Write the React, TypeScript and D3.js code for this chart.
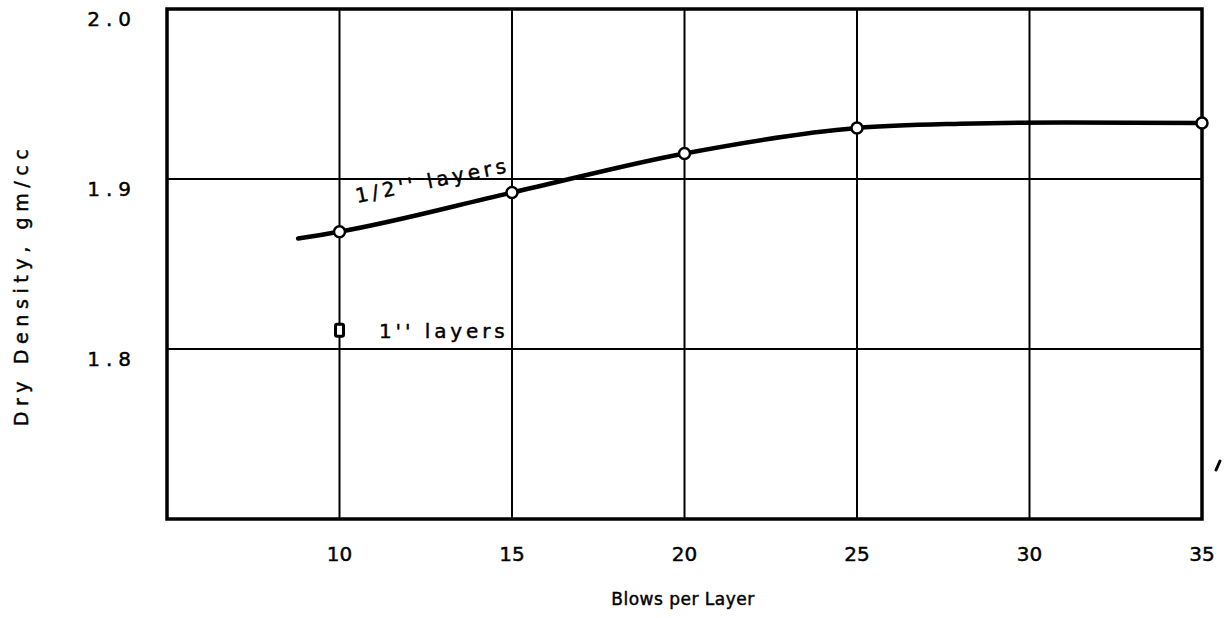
import React from "react";
import * as d3 from "d3";

const blows = [10, 15, 20, 25, 35];
const halfInchDensity = [1.869, 1.892, 1.915, 1.93, 1.933];
// smooth fitted curve through the half-inch points
const curveBlows = [8.8, 10, 15, 20, 25, 28, 31, 35];
const curveDensity = [1.865, 1.869, 1.892, 1.915, 1.93, 1.9325, 1.9333, 1.933];
const oneInchBlows = [10];
const oneInchDensity = [1.811];
const xTicks = [10, 15, 20, 25, 30, 35];
const yTicks = [1.8, 1.9, 2.0];
const xTickLabels = ["10", "15", "20", "25", "30", "35"];
const yTickLabels = ["1.8", "1.9", "2.0"];

const W = 1225;
const H = 618;
const FONT = "'DejaVu Sans', sans-serif";
const TXT = { fontFamily: FONT, stroke: "#000", strokeWidth: 0.45 } as const;

export default function App() {
  const x = d3.scaleLinear().domain([5, 35]).range([167, 1202]);
  const y = d3.scaleLinear().domain([1.7, 2.0]).range([519, 9]);

  const line = d3
    .line<number>()
    .x((_, i) => x(curveBlows[i]))
    .y((d) => y(d))
    .curve(d3.curveMonotoneX);

  const x0 = x(5);
  const x1 = x(35);
  const y0 = y(1.7);
  const y1 = y(2.0);

  return (
    <svg
      width={W}
      height={H}
      style={{ position: "absolute", left: 0, top: 0, background: "#fff" }}
    >
      <rect x={0} y={0} width={W} height={H} fill="#fff" />
      {/* gridlines */}
      {xTicks.map((t) => (
        <line key={"gx" + t} x1={x(t)} x2={x(t)} y1={y1} y2={y0} stroke="#000" strokeWidth={2} />
      ))}
      {yTicks.map((t) => (
        <line key={"gy" + t} x1={x0} x2={x1} y1={y(t)} y2={y(t)} stroke="#000" strokeWidth={2} />
      ))}
      {/* frame */}
      <rect x={x0} y={y1} width={x1 - x0} height={y0 - y1} fill="none" stroke="#000" strokeWidth={3.5} />

      {/* curve */}
      <path d={line(curveDensity) || ""} fill="none" stroke="#000" strokeWidth={4.5} strokeLinecap="round" />
      {blows.map((b, i) => (
        <circle key={"c" + b} cx={x(b)} cy={y(halfInchDensity[i])} r={5.5} fill="#fff" stroke="#000" strokeWidth={2.5} />
      ))}
      {oneInchBlows.map((b, i) => (
        <rect
          key={"s" + b}
          x={x(b) - 4}
          y={y(oneInchDensity[i]) - 6}
          width={8}
          height={12}
          rx={1.5}
          fill="#fff"
          stroke="#000"
          strokeWidth={3}
        />
      ))}

      {/* annotations */}
      <text
        x={357}
        y={203}
        transform="rotate(-11.5 357 203)"
        {...TXT}
        fontSize={20}
        letterSpacing={3.9}
      >
        1/2'' layers
      </text>
      <text x={379} y={338} {...TXT} fontSize={20} letterSpacing={3.9}>
        1'' layers
      </text>

      {/* tick labels */}
      {xTicks.map((t, i) => (
        <text key={"xt" + t} x={x(t)} y={561} textAnchor="middle" {...TXT} fontSize={20}>
          {xTickLabels[i]}
        </text>
      ))}
      {yTicks.map((t, i) => (
        <text key={"yt" + t} x={137} y={y(t) + 17} textAnchor="end" {...TXT} fontSize={20} letterSpacing={6}>
          {yTickLabels[i]}
        </text>
      ))}

      {/* axis titles */}
      <text x={683} y={605} textAnchor="middle" {...TXT} fontSize={17} letterSpacing={0.5}>
        Blows per Layer
      </text>
      <text
        x={28}
        y={285}
        transform="rotate(-90 28 285)"
        textAnchor="middle"
        {...TXT}
        fontSize={19}
        letterSpacing={5.6}
      >
        Dry Density, gm/cc
      </text>

      {/* stray scan mark */}
      <path d="M1216,470 L1220,461" stroke="#000" strokeWidth={3} strokeLinecap="round" />
    </svg>
  );
}
